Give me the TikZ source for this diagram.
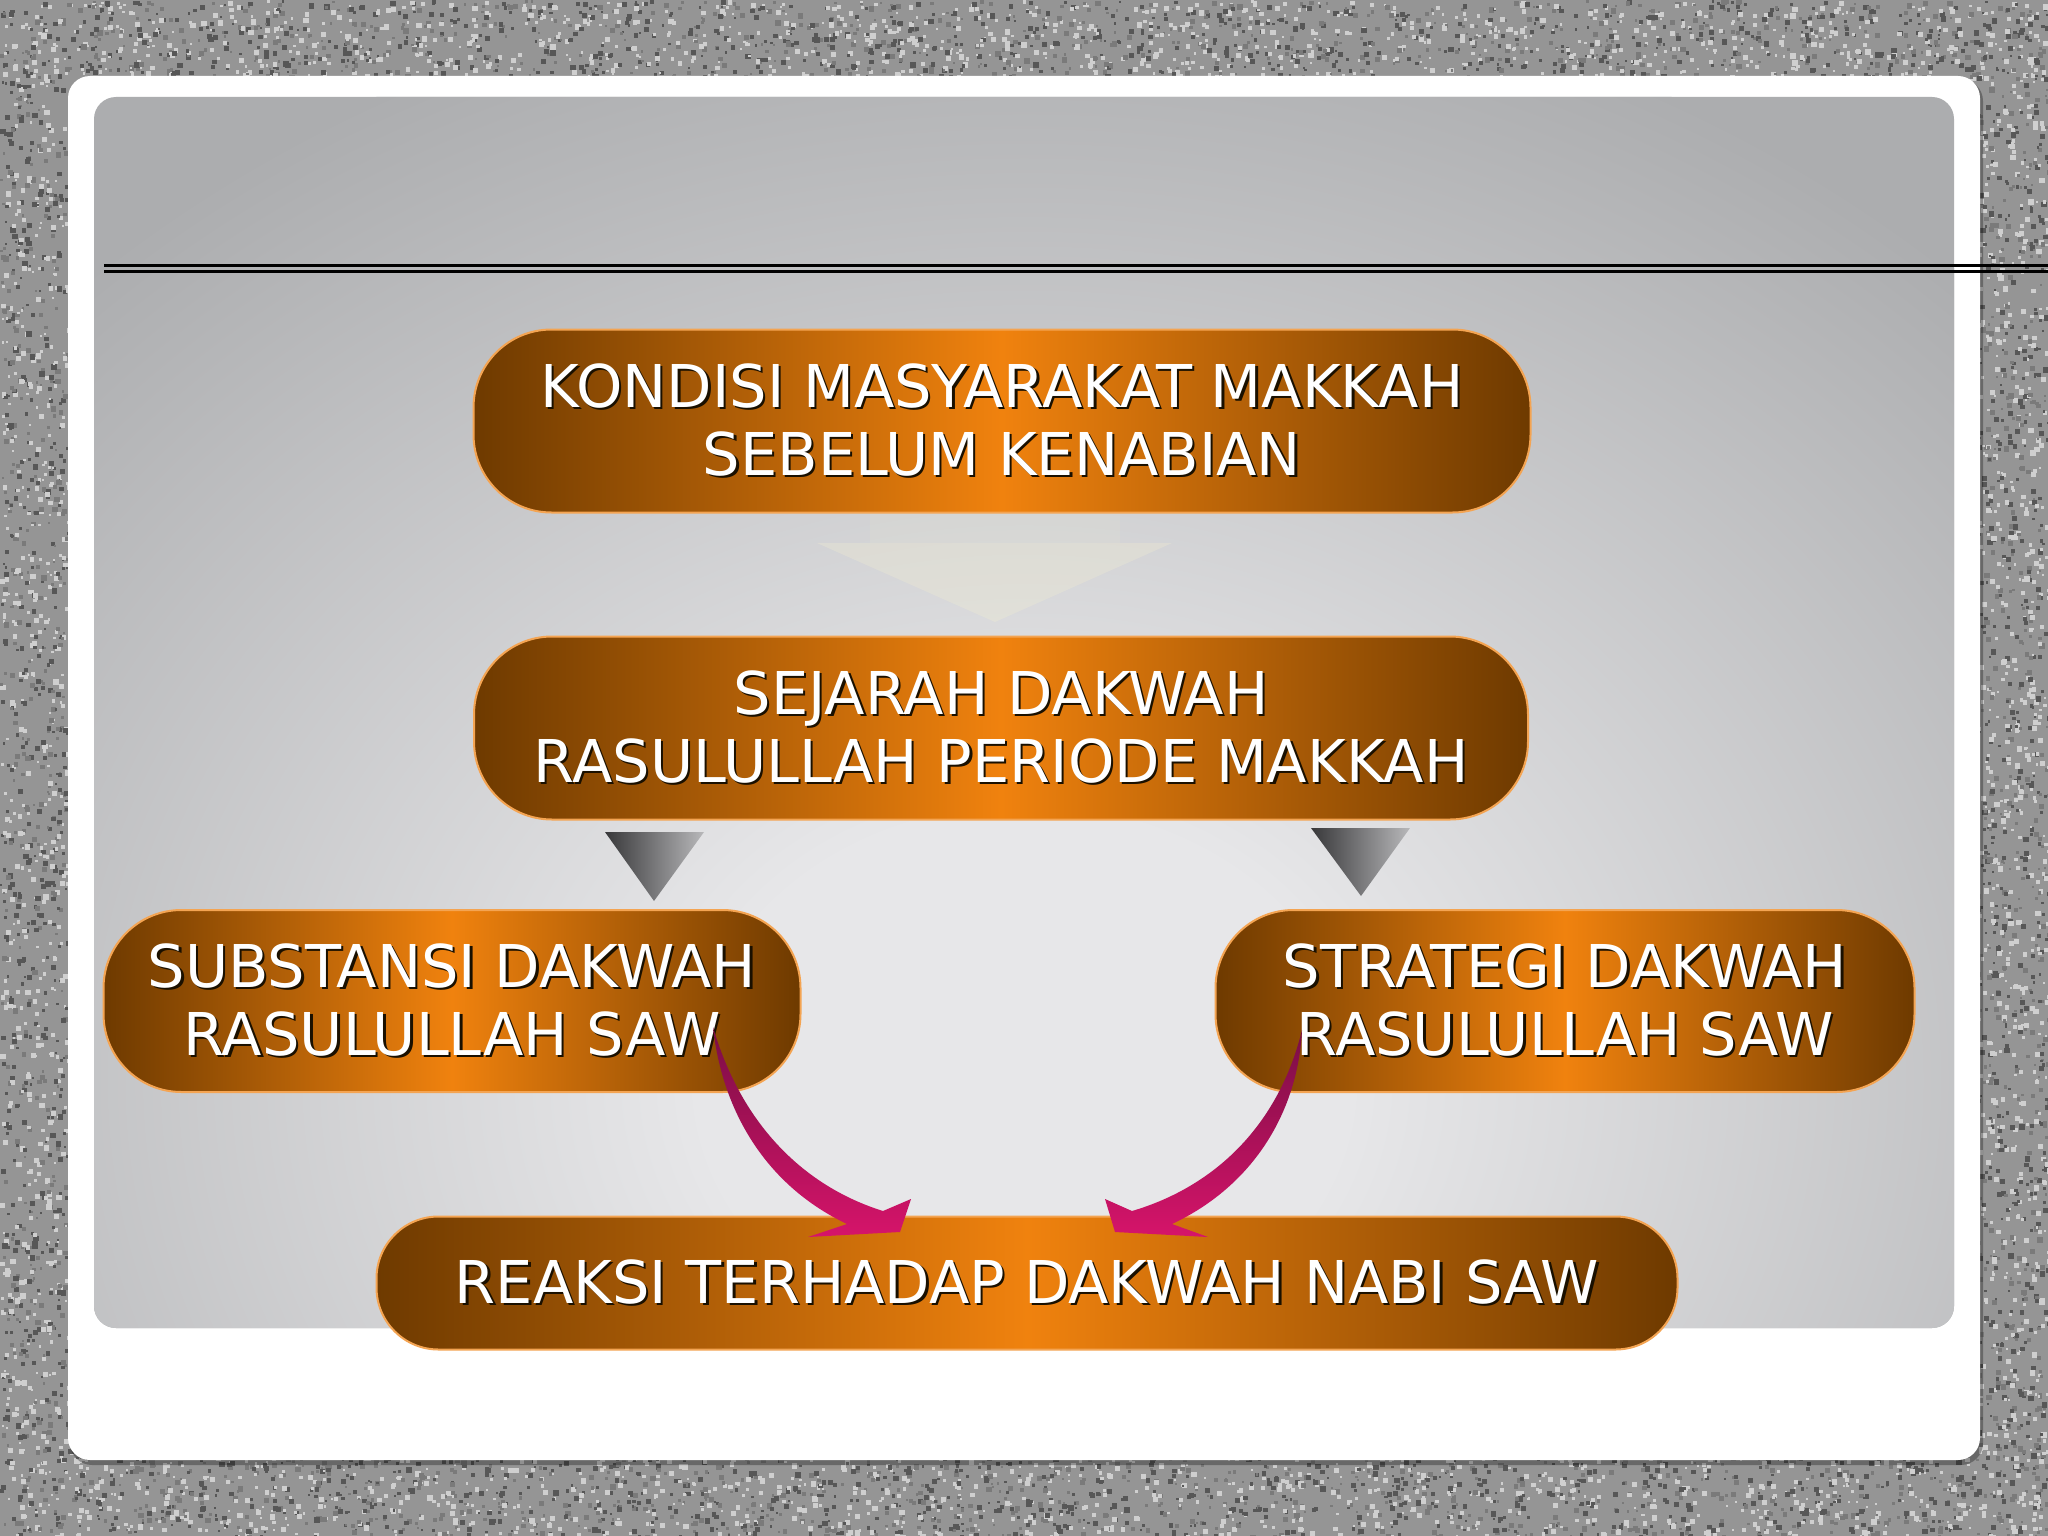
\documentclass[tikz,border=0pt]{standalone}
\usepackage{fontspec}
\setmainfont{DejaVu Sans}
\usetikzlibrary{calc}
\definecolor{bgbase}{HTML}{959595}
\definecolor{specdark}{HTML}{575757}
\definecolor{specmid}{HTML}{7A7A7A}
\definecolor{speclight}{HTML}{CFCFCF}
\definecolor{panelin}{HTML}{E7E7E9}
\definecolor{panelout}{HTML}{ACADAF}
\definecolor{boxdark}{HTML}{6E3A00}
\definecolor{boxbright}{HTML}{F0820E}
\definecolor{boxrim}{HTML}{F4A452}
\definecolor{txtshadow}{HTML}{1A1000}
\definecolor{triL}{HTML}{38383A}
\definecolor{triR}{HTML}{B8B8BA}
\definecolor{magtop}{HTML}{7A0E45}
\definecolor{magbot}{HTML}{D6146A}
\definecolor{faintarrow}{HTML}{F2EED2}
\pgfdeclareradialshading{panelshade}{\pgfpointorigin}{color(0bp)=(panelin); color(6bp)=(panelin); color(25bp)=(panelout); color(50bp)=(panelout)}
\newcommand\shtxt[1]{\makebox[0pt][l]{\kern2.2pt\raisebox{-2.2pt}{\textcolor{txtshadow}{#1}}}#1}
\newcommand\mySpeckle[5]{%
  \foreach \i in {1,...,#5}{%
    \pgfmathsetmacro\sx{#1+rnd*#3}%
    \pgfmathsetmacro\sy{#2+rnd*#4}%
    \pgfmathsetmacro\sr{2+rnd*3.5}%
    \pgfmathsetmacro\sc{rnd}%
    \ifdim\sc pt<0.35pt
      \fill[specdark] (\sx,\sy) rectangle ++(\sr,\sr);
    \else\ifdim\sc pt<0.6pt
      \fill[specmid] (\sx,\sy) rectangle ++(\sr,\sr);
    \else
      \fill[speclight] (\sx,\sy) rectangle ++(\sr,\sr);
    \fi\fi
  }}
\begin{document}
\begin{tikzpicture}[x=1pt,y=-1pt,
  pill/.style={draw=boxrim, line width=2pt, left color=boxdark, right color=boxdark, middle color=boxbright,
    text=white, align=center, inner sep=0pt, font=\fontsize{59}{68}\selectfont, rounded corners=78pt},
  tri/.style={left color=triL, right color=triR},
  curvearrow/.style={top color=magtop, bottom color=magbot},
  dline/.style={black, line width=2.8pt}]
\useasboundingbox (0,0) rectangle (2048,1536);
\pgfmathsetseed{4242}
% textured background
\fill[bgbase] (0,0) rectangle (2048,1536);
\mySpeckle{0}{0}{2048}{80}{2600}
\mySpeckle{0}{1456}{2048}{80}{2600}
\mySpeckle{0}{80}{72}{1376}{1400}
\mySpeckle{1976}{80}{72}{1376}{1400}
% white card
\fill[black,opacity=0.3,rounded corners=22pt] (70,79) rectangle (1983,1465);
\fill[white,rounded corners=22pt] (68,76) rectangle (1980,1460);
% gray panel
\fill[panelout,rounded corners=22pt] (94,97) rectangle (1954,1328);
\begin{scope}
  \clip[rounded corners=22pt] (94,97) rectangle (1954,1328);
  \shade[shading=panelshade] (1024,1080) ellipse [x radius=1350pt, y radius=1120pt];
\end{scope}
% double rule
\draw[dline] (104,265.5) -- (2048,265.5);
\draw[dline] (104,271.5) -- (2048,271.5);
% faint block arrow
\fill[faintarrow,opacity=0.12] (870,513) rectangle (1120,543);
\fill[faintarrow,opacity=0.3] (817,543) -- (1172,543) -- (995,622) -- cycle;
% boxes
\node[pill, minimum width=1057pt, minimum height=183pt] (kondisi) at (1002,421)
  {\shtxt{KONDISI MASYARAKAT MAKKAH}\\\shtxt{SEBELUM KENABIAN}};
\node[pill, minimum width=1054pt, minimum height=183pt] (sejarah) at (1001,728)
  {\shtxt{SEJARAH DAKWAH}\\\shtxt{RASULULLAH PERIODE MAKKAH}};
\node[pill, minimum width=697pt, minimum height=182pt] (substansi) at (452,1001)
  {\shtxt{SUBSTANSI DAKWAH}\\\shtxt{RASULULLAH SAW}};
\node[pill, minimum width=699pt, minimum height=182pt] (strategi) at (1565,1001)
  {\shtxt{STRATEGI DAKWAH}\\\shtxt{RASULULLAH SAW}};
\node[pill, rounded corners=62pt, minimum width=1301pt, minimum height=133pt] (reaksi) at (1027,1283)
  {\shtxt{REAKSI TERHADAP DAKWAH NABI SAW}};
% gray triangles
\shade[tri] (605,832) -- (704,832) -- (654,901) -- cycle;
\shade[tri] (1311,828) -- (1410,828) -- (1361,896) -- cycle;
% curved magenta arrows
\shade[curvearrow] (713,1027) .. controls (722,1110) and (765,1185) .. (847,1224)
  -- (808,1237) -- (900,1232) -- (911,1199) -- (883,1211)
  .. controls (800,1185) and (740,1120) .. (713,1027) -- cycle;
\shade[curvearrow] (1302,1030) .. controls (1298,1110) and (1255,1185) .. (1172,1224)
  -- (1208,1237) -- (1115,1232) -- (1105,1199) -- (1132,1211)
  .. controls (1220,1185) and (1280,1120) .. (1302,1030) -- cycle;
\end{tikzpicture}
\end{document}
